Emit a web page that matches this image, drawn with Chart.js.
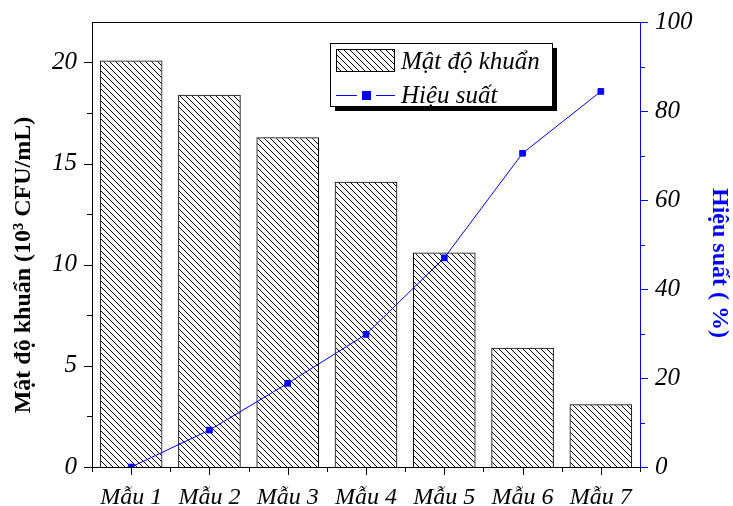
<!DOCTYPE html>
<html>
<head>
<meta charset="utf-8">
<script src="https://cdn.jsdelivr.net/npm/chart.js@4/dist/chart.umd.min.js"></script>
<style>
html,body{margin:0;padding:0;background:#fff;}
#wrap{width:733px;height:506px;position:relative;}
</style>
</head>
<body>
<div id="wrap"><canvas id="c" width="733" height="506"></canvas></div>
<script>
const categories = ["Mẫu 1","Mẫu 2","Mẫu 3","Mẫu 4","Mẫu 5","Mẫu 6","Mẫu 7"];
const density = [20.1, 18.4, 16.3, 14.1, 10.6, 5.9, 3.1];
const efficiency = [0, 8.3, 18.8, 29.8, 47.0, 70.5, 84.4];
const leftTicks = [0, 5, 10, 15, 20];
const rightTicks = [0, 20, 40, 60, 80, 100];
const densityLabel = "Mật độ khuẩn";
const effLabel = "Hiệu suất";
const leftTitle = "Mật độ khuẩn (10³ CFU/mL)";
const rightTitle = "Hiệu suất ( %)";

const SERIF = "'Liberation Serif','Times New Roman',serif";

function hatch() {
  const s = 6;
  const c = document.createElement('canvas');
  c.width = s; c.height = s;
  const g = c.getContext('2d');
  g.strokeStyle = '#000';
  g.lineWidth = 1;
  g.beginPath();
  g.moveTo(-1, -1); g.lineTo(s + 1, s + 1);
  g.moveTo(-1, s - 1); g.lineTo(1, s + 1);
  g.moveTo(s - 1, -1); g.lineTo(s + 1, 1);
  g.stroke();
  return document.getElementById('c').getContext('2d').createPattern(c, 'repeat');
}

const axisPlugin = {
  id: 'axisDeco',
  afterDraw(chart) {
    const ctx = chart.ctx;
    const a = chart.chartArea;
    const y = chart.scales.y, y2 = chart.scales.y2, x = chart.scales.x;
    ctx.save();
    ctx.lineWidth = 1;
    ctx.strokeStyle = '#000';
    ctx.beginPath(); ctx.moveTo(a.left, a.top + 0.5); ctx.lineTo(a.right, a.top + 0.5); ctx.stroke();
    for (let v = 0; v <= 22; v += 2.5) {
      const p = Math.round(y.getPixelForValue(v)) + 0.5;
      const major = Math.abs(v % 5) < 1e-6;
      ctx.beginPath(); ctx.moveTo(a.left, p); ctx.lineTo(a.left - (major ? 8 : 5), p); ctx.stroke();
    }
    const n = categories.length;
    for (let i = 0; i < n; i++) {
      const p = Math.round(x.getPixelForValue(i)) + 0.5;
      ctx.beginPath(); ctx.moveTo(p, a.bottom); ctx.lineTo(p, a.bottom + 8); ctx.stroke();
    }
    for (let i = 0; i <= n; i++) {
      const p = Math.round(x.getPixelForValue(i - 0.5)) + 0.5;
      ctx.beginPath(); ctx.moveTo(p, a.bottom); ctx.lineTo(p, a.bottom + 5); ctx.stroke();
    }
    ctx.strokeStyle = '#0000ff';
    for (let v = 0; v <= 100; v += 10) {
      const p = Math.round(y2.getPixelForValue(v)) + 0.5;
      const major = v % 20 === 0;
      ctx.beginPath(); ctx.moveTo(a.right, p); ctx.lineTo(a.right + (major ? 8 : 5), p); ctx.stroke();
    }
    ctx.textAlign = 'center';
    ctx.textBaseline = 'middle';
    ctx.font = "bold 24px " + SERIF;
    ctx.fillStyle = '#000';
    ctx.save(); ctx.translate(24, 265); ctx.rotate(-Math.PI / 2); ctx.fillText(leftTitle, 0, 0); ctx.restore();
    ctx.fillStyle = '#0000ff';
    ctx.save(); ctx.translate(719, 263); ctx.rotate(Math.PI / 2); ctx.fillText(rightTitle, 0, 0); ctx.restore();
    const lx = 330, ly = 43, lw = 222, lh = 63;
    ctx.fillStyle = '#000';
    ctx.fillRect(lx + 5, ly + 5, lw, lh);
    ctx.fillStyle = '#fff';
    ctx.fillRect(lx, ly, lw, lh);
    ctx.strokeStyle = '#000';
    ctx.strokeRect(lx + 0.5, ly + 0.5, lw, lh);
    const ds0 = chart.data.datasets[0];
    ctx.fillStyle = ds0.backgroundColor;
    ctx.fillRect(336, 49, 58, 22);
    ctx.strokeRect(336.5, 49.5, 58, 22);
    ctx.fillStyle = '#000';
    ctx.font = "italic 25px " + SERIF;
    ctx.textBaseline = 'alphabetic';
    ctx.textAlign = 'left';
    ctx.fillText(ds0.label, 401, 69);
    const ds1 = chart.data.datasets[1];
    ctx.strokeStyle = '#0000ff';
    ctx.beginPath(); ctx.moveTo(336, 95.5); ctx.lineTo(357, 95.5); ctx.moveTo(376, 95.5); ctx.lineTo(395, 95.5); ctx.stroke();
    ctx.fillStyle = '#0000ff';
    ctx.fillRect(362, 91, 9, 9);
    ctx.fillStyle = '#000';
    ctx.fillText(ds1.label, 401, 103);
    ctx.restore();
  }
};

const ctx = document.getElementById('c').getContext('2d');
const pattern = hatch();

new Chart(ctx, {
  data: {
    labels: categories,
    datasets: [
      {
        type: 'bar', label: densityLabel, data: density, yAxisID: 'y',
        backgroundColor: pattern, borderColor: '#000', borderWidth: 1,
        barPercentage: 0.8, categoryPercentage: 1.0, order: 2
      },
      {
        type: 'line', label: effLabel, data: efficiency, yAxisID: 'y2',
        borderColor: '#0000ff', backgroundColor: '#0000ff', borderWidth: 1,
        pointStyle: 'rect', pointRadius: 4, tension: 0, order: 1
      }
    ]
  },
  options: {
    responsive: false,
    animation: false,
    devicePixelRatio: 1,
    layout: { padding: { top: 15, left: 0, right: 0, bottom: 0 } },
    plugins: { legend: { display: false }, tooltip: { enabled: false } },
    scales: {
      x: {
        grid: { display: false },
        border: { display: true, color: '#000', width: 1 },
        ticks: { color: '#000', font: { family: SERIF, size: 24, style: 'italic' }, padding: 8, maxRotation: 0, autoSkip: false },
        afterFit(s) { s.height = 39; }
      },
      y: {
        position: 'left', min: 0, max: 22,
        grid: { display: false },
        border: { display: true, color: '#000', width: 1 },
        afterBuildTicks(s) { s.ticks = leftTicks.map(v => ({ value: v })); },
        ticks: { color: '#000', font: { family: SERIF, size: 25, style: 'italic' }, padding: 7 },
        afterFit(s) { s.width = 92; }
      },
      y2: {
        position: 'right', min: 0, max: 100,
        grid: { display: false },
        border: { display: true, color: '#0000ff', width: 1 },
        afterBuildTicks(s) { s.ticks = rightTicks.map(v => ({ value: v })); },
        ticks: { color: '#000', font: { family: SERIF, size: 25, style: 'italic' }, padding: 7 },
        afterFit(s) { s.width = 93; }
      }
    }
  },
  plugins: [axisPlugin]
});
</script>
</body>
</html>
